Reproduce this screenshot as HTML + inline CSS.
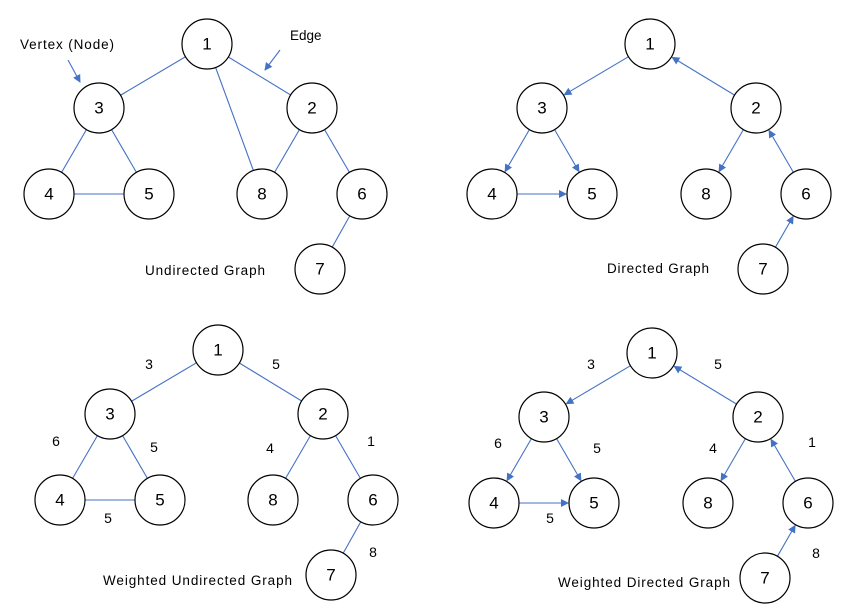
<!DOCTYPE html>
<html><head><meta charset="utf-8"><style>
html,body{margin:0;padding:0;background:#fff;}
svg{display:block;font-family:"Liberation Sans",sans-serif;}
.e{stroke:#4472c4;stroke-width:1.1;fill:none}
.a{stroke:#4472c4;stroke-width:1.1;fill:none;marker-end:url(#ah)}
circle{fill:#fff;stroke:#000;stroke-width:1.2}
.n{font-size:17px;text-anchor:middle;dominant-baseline:central}
.l{font-size:13.5px}
.w{font-size:14px;text-anchor:middle}
</style></head><body>
<svg width="850" height="608" viewBox="0 0 850 608" xmlns="http://www.w3.org/2000/svg">
<defs><marker id="ah" markerWidth="8" markerHeight="8" refX="7" refY="4" orient="auto" markerUnits="userSpaceOnUse"><path d="M0,0 L8,4 L0,8 z" fill="#4472c4"/></marker></defs>

<g>
<line class="e" x1="207" y1="44" x2="99" y2="108"/>
<line class="e" x1="207" y1="44" x2="312" y2="108"/>
<line class="e" x1="207" y1="44" x2="262" y2="194"/>
<line class="e" x1="99" y1="108" x2="49" y2="194"/>
<line class="e" x1="99" y1="108" x2="149" y2="194"/>
<line class="e" x1="49" y1="194" x2="149" y2="194"/>
<line class="e" x1="312" y1="108" x2="262" y2="194"/>
<line class="e" x1="312" y1="108" x2="362" y2="194"/>
<line class="e" x1="362" y1="194" x2="320" y2="269"/>
<circle cx="207" cy="44" r="25"/><text class="n" x="207" y="44">1</text>
<circle cx="99" cy="108" r="25"/><text class="n" x="99" y="108">3</text>
<circle cx="312" cy="108" r="25"/><text class="n" x="312" y="108">2</text>
<circle cx="49" cy="194" r="25"/><text class="n" x="49" y="194">4</text>
<circle cx="149" cy="194" r="25"/><text class="n" x="149" y="194">5</text>
<circle cx="262" cy="194" r="25"/><text class="n" x="262" y="194">8</text>
<circle cx="362" cy="194" r="25"/><text class="n" x="362" y="194">6</text>
<circle cx="320" cy="269" r="25"/><text class="n" x="320" y="269">7</text>
<text class="l" x="20" y="49" textLength="94">Vertex (Node)</text>
<line class="a" x1="68" y1="60" x2="80" y2="82"/>
<text class="l" x="290" y="40">Edge</text>
<line class="a" x1="280" y1="50" x2="265" y2="70"/>
<text class="l" x="145" y="275" textLength="120">Undirected Graph</text>
</g>

<g id="dg">
<line class="a" x1="628.5" y1="56.7" x2="564.4" y2="94.7"/>
<line class="a" x1="734.6" y1="95.1" x2="672.3" y2="57.4"/>
<line class="a" x1="529.4" y1="129.6" x2="505.1" y2="171.5"/>
<line class="a" x1="554.6" y1="129.6" x2="578.9" y2="171.5"/>
<line class="a" x1="517" y1="194" x2="566" y2="194"/>
<line class="a" x1="743.4" y1="129.6" x2="719.1" y2="171.5"/>
<line class="a" x1="793.4" y1="172.4" x2="769.1" y2="130.5"/>
<line class="a" x1="775.4" y1="247.3" x2="793.1" y2="216.5"/>
<circle cx="650" cy="44" r="25"/><text class="n" x="650" y="44">1</text>
<circle cx="542" cy="108" r="25"/><text class="n" x="542" y="108">3</text>
<circle cx="756" cy="108" r="25"/><text class="n" x="756" y="108">2</text>
<circle cx="492" cy="194" r="25"/><text class="n" x="492" y="194">4</text>
<circle cx="592" cy="194" r="25"/><text class="n" x="592" y="194">5</text>
<circle cx="706" cy="194" r="25"/><text class="n" x="706" y="194">8</text>
<circle cx="806" cy="194" r="25"/><text class="n" x="806" y="194">6</text>
<circle cx="763" cy="269" r="25"/><text class="n" x="763" y="269">7</text>
<text class="l" x="607" y="273" textLength="102">Directed Graph</text>
</g>

<g transform="translate(11,306)">
<line class="e" x1="207" y1="44" x2="99" y2="108"/>
<line class="e" x1="207" y1="44" x2="312" y2="108"/>
<line class="e" x1="99" y1="108" x2="49" y2="194"/>
<line class="e" x1="99" y1="108" x2="149" y2="194"/>
<line class="e" x1="49" y1="194" x2="149" y2="194"/>
<line class="e" x1="312" y1="108" x2="262" y2="194"/>
<line class="e" x1="312" y1="108" x2="362" y2="194"/>
<line class="e" x1="362" y1="194" x2="320" y2="269"/>
<circle cx="207" cy="44" r="25"/><text class="n" x="207" y="44">1</text>
<circle cx="99" cy="108" r="25"/><text class="n" x="99" y="108">3</text>
<circle cx="312" cy="108" r="25"/><text class="n" x="312" y="108">2</text>
<circle cx="49" cy="194" r="25"/><text class="n" x="49" y="194">4</text>
<circle cx="149" cy="194" r="25"/><text class="n" x="149" y="194">5</text>
<circle cx="262" cy="194" r="25"/><text class="n" x="262" y="194">8</text>
<circle cx="362" cy="194" r="25"/><text class="n" x="362" y="194">6</text>
<circle cx="320" cy="269" r="25"/><text class="n" x="320" y="269">7</text>
</g>
<text class="w" x="149" y="369">3</text>
<text class="w" x="276" y="369">5</text>
<text class="w" x="56" y="446">6</text>
<text class="w" x="154" y="452">5</text>
<text class="w" x="270" y="453">4</text>
<text class="w" x="371" y="446">1</text>
<text class="w" x="108" y="523">5</text>
<text class="w" x="373" y="557">8</text>
<text class="l" x="103" y="585" textLength="189">Weighted Undirected Graph</text>

<use href="#dg" transform="translate(2,309)"/>
<rect x="600" y="565" width="120" height="30" fill="#fff"/>
<text class="w" x="591" y="369">3</text>
<text class="w" x="718" y="369">5</text>
<text class="w" x="498" y="448">6</text>
<text class="w" x="597" y="453">5</text>
<text class="w" x="713" y="453">4</text>
<text class="w" x="812" y="447">1</text>
<text class="w" x="550" y="523">5</text>
<text class="w" x="816" y="558">8</text>
<text class="l" x="558" y="587" textLength="172">Weighted Directed Graph</text>
</svg>
</body></html>
